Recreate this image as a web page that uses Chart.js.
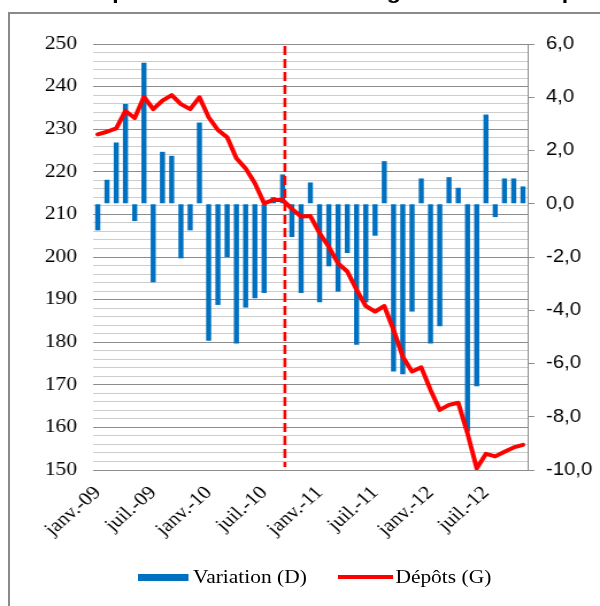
<!DOCTYPE html>
<html><head><meta charset="utf-8">
<script src="https://cdn.jsdelivr.net/npm/chart.js@4/dist/chart.umd.min.js"></script>
<style>
html,body{margin:0;padding:0;background:#fff;width:600px;height:606px;overflow:hidden;position:relative;}
#frame{position:absolute;left:8px;top:12px;width:660px;height:660px;border-left:2px solid #8a8a8a;border-top:2px solid #8a8a8a;}
#wrap{position:absolute;left:0;top:0;width:522px;height:606px;transform:scaleX(1.1494);transform-origin:0 0;}
#box{position:relative;width:522px;height:606px;}
#title{position:absolute;left:72px;top:-18px;font:bold 20px "Liberation Sans",Arial,sans-serif;line-height:20px;white-space:nowrap;color:#000;}
.lg{position:absolute;font:18.67px "Liberation Serif","Times New Roman",serif;line-height:24px;color:#000;white-space:nowrap;}
</style></head>
<body>
<div id="frame"></div>
<div id="wrap">
  <div id="title">Dépôts bancaires des ménages et des entreprises</div>
  <div id="box"><canvas id="c"></canvas></div>
  <div style="position:absolute;left:120px;top:574px;width:44px;height:7px;background:#0070C0"></div>
  <div class="lg" style="left:168px;top:565px">Variation (D)</div>
  <div style="position:absolute;left:294px;top:575px;width:48px;height:4px;background:#FF0000"></div>
  <div class="lg" style="left:344px;top:565px">Dépôts (G)</div>
</div>
<script>
const months = ['janv.-09','févr.-09','mars-09','avr.-09','mai-09','juin-09','juil.-09','août-09','sept.-09','oct.-09','nov.-09','déc.-09',
 'janv.-10','févr.-10','mars-10','avr.-10','mai-10','juin-10','juil.-10','août-10','sept.-10','oct.-10','nov.-10','déc.-10',
 'janv.-11','févr.-11','mars-11','avr.-11','mai-11','juin-11','juil.-11','août-11','sept.-11','oct.-11','nov.-11','déc.-11',
 'janv.-12','févr.-12','mars-12','avr.-12','mai-12','juin-12','juil.-12','août-12','sept.-12','oct.-12','nov.-12'];
const depots = [228.8,229.4,230.2,234.3,232.6,237.6,234.7,236.7,238.0,235.9,234.7,237.5,
 232.8,229.8,228.1,223.2,220.8,217.3,212.6,213.4,213.4,211.3,209.5,209.6,
 205.6,202.4,198.5,196.6,192.3,188.5,187.2,188.5,182.9,176.6,173.1,174.1,
 168.8,164.1,165.3,165.8,158.6,150.4,153.8,153.2,154.3,155.3,155.9];
const variation = [-1.0,0.9,2.3,3.75,-0.65,5.3,-2.95,1.95,1.8,-2.05,-1.0,3.05,
 -5.15,-3.8,-2.0,-5.25,-3.9,-3.55,-3.35,0.25,1.1,-1.25,-3.35,0.8,
 -3.7,-2.35,-3.3,-1.85,-5.3,-3.7,-1.2,1.6,-6.3,-6.4,-4.05,0.95,
 -5.25,-4.6,1.0,0.6,-8.55,-6.85,3.35,-0.5,0.95,0.95,0.65];
const leftMin = 150, leftMax = 250, leftMinorStep = 2, leftMajorStep = 10;
const rightMin = -10, rightMax = 6, rightStep = 2;
const labelEvery = 6;
const markerIndex = 20.25;

const serif = '"Liberation Serif","Times New Roman",serif';
const sans = '"Liberation Sans",Arial,sans-serif';

const markerPlugin = {
  id: 'marker',
  afterDatasetsDraw(chart) {
    const {ctx, chartArea, scales} = chart;
    const px = scales.x.getPixelForValue(markerIndex);
    ctx.save();
    ctx.strokeStyle = '#FF0000';
    ctx.lineWidth = 2.6;
    ctx.setLineDash([9, 4]);
    ctx.beginPath();
    ctx.moveTo(px, chartArea.top + 2);
    ctx.lineTo(px, chartArea.bottom - 3);
    ctx.stroke();
    ctx.restore();
  }
};

new Chart(document.getElementById('c'), {
  data: {
    labels: months,
    datasets: [
      {type: 'line', label: 'Dépôts (G)', data: depots, yAxisID: 'yL', borderColor: '#FF0000',
       borderWidth: 4, pointRadius: 0, tension: 0, order: 0, borderJoinStyle: 'round', borderCapStyle: 'round'},
      {type: 'bar', label: 'Variation (D)', data: variation, yAxisID: 'yR', backgroundColor: '#0070C0',
       barPercentage: 0.55, categoryPercentage: 1, order: 1}
    ]
  },
  options: {
    responsive: true, maintainAspectRatio: false, animation: false, devicePixelRatio: 1,
    layout: {padding: {top: 44, left: 0, right: 0, bottom: 0}},
    plugins: {legend: {display: false}, tooltip: {enabled: false}},
    scales: {
      x: {
        type: 'category', offset: true,
        grid: {display: false}, border: {display: false},
        ticks: {autoSkip: false, minRotation: 45, maxRotation: 45, color: '#000', padding: 4,
          font: {family: serif, size: 18.67},
          callback: (v, i) => i % labelEvery === 0 ? months[i] : ''},
        afterFit: s => { s.height = 136; }
      },
      yL: {
        position: 'left', min: leftMin, max: leftMax,
        ticks: {stepSize: leftMinorStep, autoSkip: false, maxTicksLimit: 1000, color: '#000', padding: 14,
          font: {family: serif, size: 18.67},
          callback: v => Math.round(v) % leftMajorStep === 0 ? String(Math.round(v)) : ''},
        grid: {color: c => Math.round(c.tick.value) % leftMajorStep === 0 ? '#8c8c8c' : '#cccccc',
          drawTicks: false, lineWidth: 1},
        border: {display: false},
        afterFit: s => { s.width = 81; }
      },
      yR: {
        position: 'right', min: rightMin, max: rightMax,
        ticks: {stepSize: rightStep, color: '#000', padding: 10,
          font: {family: sans, size: 17.7},
          callback: v => Number(v).toFixed(1).replace('.', ',')},
        grid: {drawOnChartArea: false, drawTicks: true, tickLength: 6, tickColor: '#8c8c8c'},
        border: {display: true, color: '#8c8c8c', width: 1},
        afterFit: s => { s.width = 63; }
      }
    }
  },
  plugins: [markerPlugin]
});
</script>
</body></html>
